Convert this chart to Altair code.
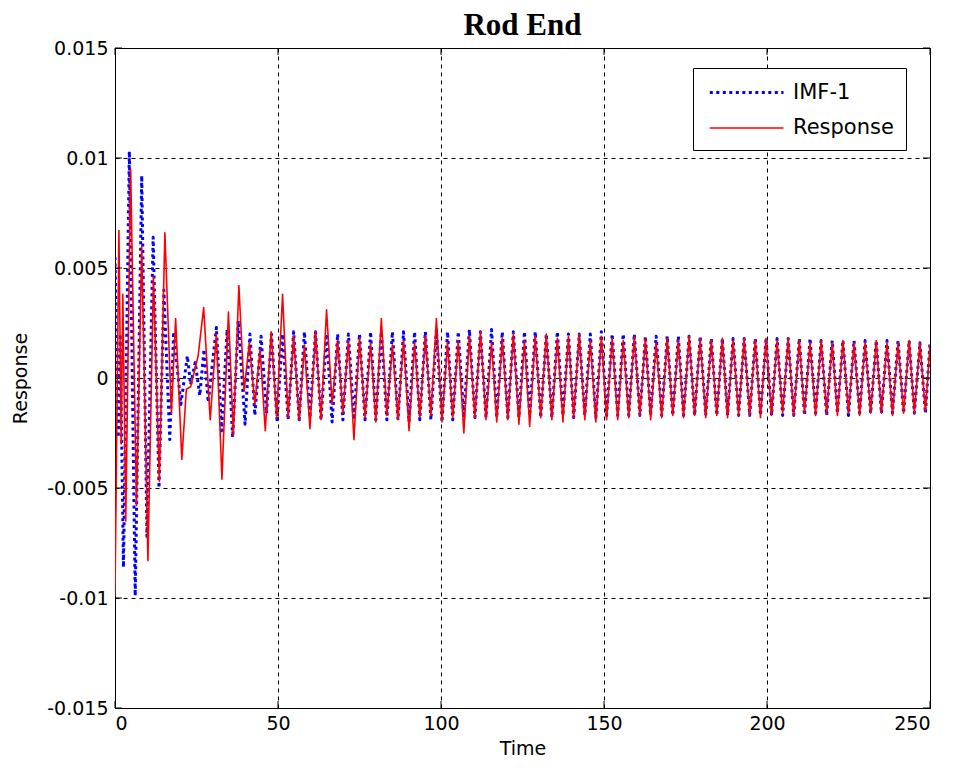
import altair as alt
import pandas as pd

SERIES = ["IMF-1", "Response"]
X_TICKS = [0, 50, 100, 150, 200, 250]
Y_TICKS = [-0.015, -0.01, -0.005, 0, 0.005, 0.01, 0.015]

# ---- early transient part ----
IMF_EARLY_T = [0.0, 1.0, 1.6, 2.6, 4.4, 6.2, 8.2, 9.8, 11.7, 13.5, 15.0, 16.8,
               18.0, 20.2, 22.2, 23.2, 24.6, 26.0, 27.3, 28.6, 31.1, 32.7, 34.4,
               36.1, 37.8, 39.9, 41.4, 42.9, 44.8, 46.5, 48.0, 49.7]
IMF_EARLY_V = [0.0055, -0.0027, 0.0020, -0.0086, 0.0103, -0.0099, 0.0092, -0.0072,
               0.0064, -0.0050, 0.0040, -0.0028, 0.0021, -0.0012, 0.0010, -0.0003,
               0.0007, -0.0008, 0.0013, -0.0011, 0.0023, -0.0024, 0.0022, -0.0027,
               0.0026, -0.0021, 0.0020, -0.0017, 0.0019, -0.0016, 0.0020, -0.0019]

RESP_EARLY_T = [0.0, 1.2, 1.9, 2.4, 3.3, 4.8, 6.6, 8.2, 10.1, 11.8, 13.6, 15.3,
                17.3, 18.6, 20.5, 21.9, 23.2, 25.5, 27.2, 29.2, 31.1, 32.8, 34.8,
                36.3, 38.0, 39.6, 41.2, 42.9, 44.5, 46.1, 47.9, 49.6]
RESP_EARLY_V = [-0.0099, 0.0067, -0.0030, 0.0038, -0.0065, 0.0095, -0.0058, 0.0060,
                -0.0083, 0.0046, -0.0047, 0.0066, -0.0016, 0.0027, -0.0037, -0.0005,
                -0.0004, 0.0010, 0.0032, -0.0019, 0.0020, -0.0046, 0.0030, -0.0026,
                0.0042, -0.0006, 0.0016, -0.0012, 0.0013, -0.0024, 0.0021, -0.0018]

# ---- steady oscillation: times of successive extremes (both series) ----
STEADY_T = [51.4, 53.1, 54.8, 56.5, 58.1, 59.8, 61.5, 63.2, 64.9, 66.6,
            68.3, 69.9, 71.6, 73.3, 75.0, 76.7, 78.4, 80.0, 81.7, 83.4,
            85.1, 86.8, 88.5, 90.2, 91.9, 93.5, 95.2, 96.9, 98.6, 100.3,
            102.0, 103.6, 105.3, 107.0, 108.7, 110.4, 112.1, 113.8, 115.5, 117.1,
            118.8, 120.5, 122.2, 123.9, 125.6, 127.2, 128.9, 130.6, 132.3, 134.0,
            135.7, 137.4, 139.1, 140.7, 142.4, 144.1, 145.8, 147.5, 149.2, 150.8,
            152.5, 154.2, 155.9, 157.6, 159.3, 161.0, 162.7, 164.3, 166.0, 167.7,
            169.4, 171.1, 172.8, 174.4, 176.1, 177.8, 179.5, 181.2, 182.9, 184.6,
            186.3, 187.9, 189.6, 191.3, 193.0, 194.7, 196.4, 198.0, 199.7, 201.4,
            203.1, 204.8, 206.5, 208.2, 209.9, 211.5, 213.2, 214.9, 216.6, 218.3,
            220.0, 221.6, 223.3, 225.0, 226.7, 228.4, 230.1, 231.8, 233.5, 235.1,
            236.8, 238.5, 240.2, 241.9, 243.6, 245.2, 246.9, 248.6, 250.0]

RESP_STEADY_V = [0.0038, -0.0018, 0.0019, -0.0019, 0.0015, -0.0023, 0.0021, -0.0019, 0.0031, -0.0012,
                 0.0017, -0.0016, 0.0017, -0.0028, 0.0018, -0.0018, 0.0016, -0.0020, 0.0027, -0.0017,
                 0.0015, -0.0019, 0.0017, -0.0024, 0.0016, -0.0018, 0.0019, -0.0017, 0.0027, -0.0020,
                 0.0016, -0.0018, 0.0017, -0.0025, 0.0019, -0.0018, 0.0021, -0.0019, 0.0016, -0.0020,
                 0.0018, -0.0019, 0.0020, -0.0021, 0.0017, -0.0022, 0.0019, -0.0018, 0.0020, -0.0019,
                 0.0018, -0.0020, 0.0019, -0.0018, 0.0020, -0.0019, 0.0017, -0.0020, 0.0019, -0.0019,
                 0.0018, -0.0019, 0.0017, -0.0018, 0.0019, -0.0017, 0.0018, -0.0019, 0.0016, -0.0018,
                 0.0018, -0.0017, 0.0017, -0.0018, 0.0019, -0.0017, 0.0018, -0.0018, 0.0017, -0.0017,
                 0.0018, -0.0018, 0.0017, -0.0017, 0.0018, -0.0017, 0.0017, -0.0018, 0.0018, -0.0017,
                 0.0017, -0.0016, 0.0018, -0.0017, 0.0017, -0.0016, 0.0016, -0.0017, 0.0017, -0.0016,
                 0.0016, -0.0017, 0.0017, -0.0016, 0.0016, -0.0017, 0.0016, -0.0016, 0.0017, -0.0016,
                 0.0016, -0.0017, 0.0016, -0.0016, 0.0017, -0.0016, 0.0016, -0.0015, 0.0015]

IMF_STEADY_V = [0.0020, -0.0019, 0.0021, -0.0019, 0.0021, -0.0018, 0.0021, -0.0019, 0.0020, -0.0020,
                0.0020, -0.0019, 0.0020, -0.0019, 0.0020, -0.0019, 0.0021, -0.0019, 0.0021, -0.0019,
                0.0021, -0.0019, 0.0021, -0.0020, 0.0021, -0.0019, 0.0021, -0.0019, 0.0022, -0.0020,
                0.0021, -0.0019, 0.0021, -0.0018, 0.0022, -0.0018, 0.0021, -0.0018, 0.0022, -0.0018,
                0.0021, -0.0018, 0.0021, -0.0018, 0.0021, -0.0017, 0.0021, -0.0018, 0.0020, -0.0018,
                0.0021, -0.0017, 0.0020, -0.0018, 0.0020, -0.0017, 0.0020, -0.0018, 0.0021, -0.0017,
                0.0020, -0.0017, 0.0020, -0.0017, 0.0020, -0.0017, 0.0019, -0.0017, 0.0019, -0.0017,
                0.0019, -0.0017, 0.0019, -0.0017, 0.0019, -0.0017, 0.0019, -0.0017, 0.0018, -0.0017,
                0.0018, -0.0017, 0.0018, -0.0017, 0.0018, -0.0017, 0.0018, -0.0017, 0.0018, -0.0017,
                0.0018, -0.0017, 0.0018, -0.0017, 0.0018, -0.0017, 0.0018, -0.0016, 0.0017, -0.0017,
                0.0017, -0.0016, 0.0017, -0.0017, 0.0017, -0.0016, 0.0017, -0.0016, 0.0017, -0.0016,
                0.0017, -0.0016, 0.0017, -0.0016, 0.0017, -0.0016, 0.0016, -0.0016, 0.0016]

rows = []
for t, v in zip(IMF_EARLY_T + STEADY_T, IMF_EARLY_V + IMF_STEADY_V):
    rows.append({"t": t, "v": v, "series": SERIES[0]})
for t, v in zip(RESP_EARLY_T + STEADY_T, RESP_EARLY_V + RESP_STEADY_V):
    rows.append({"t": t, "v": v, "series": SERIES[1]})
df = pd.DataFrame(rows)

FONT = "DejaVu Sans"
W, H = 815, 660
TICK_LEN = 7

x_scale = alt.Scale(domain=[0, 250], nice=False, zero=False)
y_scale = alt.Scale(domain=[-0.015, 0.015], nice=False)
x_axis = alt.Axis(values=X_TICKS, title="Time", labelPadding=6, titlePadding=6)
y_axis = alt.Axis(values=Y_TICKS, title="Response", labelExpr="toString(datum.value)",
                  labelPadding=7, titlePadding=16)

lines = alt.Chart(df).mark_line(clip=True, strokeJoin="round").encode(
    x=alt.X("t:Q", scale=x_scale, axis=x_axis),
    y=alt.Y("v:Q", scale=y_scale, axis=y_axis),
    color=alt.Color("series:N", scale=alt.Scale(domain=SERIES, range=["#0000ff", "#ff0000"]),
                    legend=alt.Legend(title=None)),
    strokeDash=alt.StrokeDash("series:N", scale=alt.Scale(domain=SERIES, range=[[3, 3.5], [1, 0]]),
                              legend=alt.Legend(title=None)),
    strokeWidth=alt.StrokeWidth("series:N", scale=alt.Scale(domain=SERIES, range=[3, 1.6]), legend=None),
)

xt = pd.DataFrame({"t": X_TICKS})
yt = pd.DataFrame({"v": Y_TICKS})
tick_style = dict(color="black", strokeWidth=1)
x_ticks_bottom = alt.Chart(xt).mark_rule(**tick_style).encode(
    x=alt.X("t:Q", scale=x_scale, axis=x_axis), y=alt.value(H - TICK_LEN), y2=alt.value(H))
x_ticks_top = alt.Chart(xt).mark_rule(**tick_style).encode(
    x=alt.X("t:Q", scale=x_scale, axis=x_axis), y=alt.value(0), y2=alt.value(TICK_LEN))
y_ticks_left = alt.Chart(yt).mark_rule(**tick_style).encode(
    y=alt.Y("v:Q", scale=y_scale, axis=y_axis), x=alt.value(0), x2=alt.value(TICK_LEN))
y_ticks_right = alt.Chart(yt).mark_rule(**tick_style).encode(
    y=alt.Y("v:Q", scale=y_scale, axis=y_axis), x=alt.value(W - TICK_LEN), x2=alt.value(W))

chart = alt.layer(lines, x_ticks_bottom, x_ticks_top, y_ticks_left, y_ticks_right).properties(
    width=W, height=H,
    autosize=alt.AutoSizeParams(type="none"),
    padding={"left": 115, "top": 48, "right": 27, "bottom": 60},
    title=alt.TitleParams("Rod End", font="Liberation Serif", fontSize=31, fontWeight="bold",
                          color="black", offset=-3, anchor="middle"),
).configure_axis(
    labelFont=FONT, labelFontSize=19, labelColor="black",
    titleFont=FONT, titleFontSize=19, titleFontWeight="normal", titleColor="black",
    domainColor="black", domainWidth=1, ticks=False,
    gridColor="black", gridDash=[4, 4], gridOpacity=1, gridWidth=1,
).configure_legend(
    orient="none", legendX=578, legendY=20,
    strokeColor="black", fillColor="white", padding=12,
    labelFont=FONT, labelFontSize=21, labelColor="black", labelOffset=63,
    symbolType="M-0.7,0H6", symbolSize=484, symbolStrokeWidth=2.2, rowPadding=13,
).configure_view(stroke="black", strokeWidth=1)

chart.save("out.html", embed_options={"renderer": "svg", "actions": False})
